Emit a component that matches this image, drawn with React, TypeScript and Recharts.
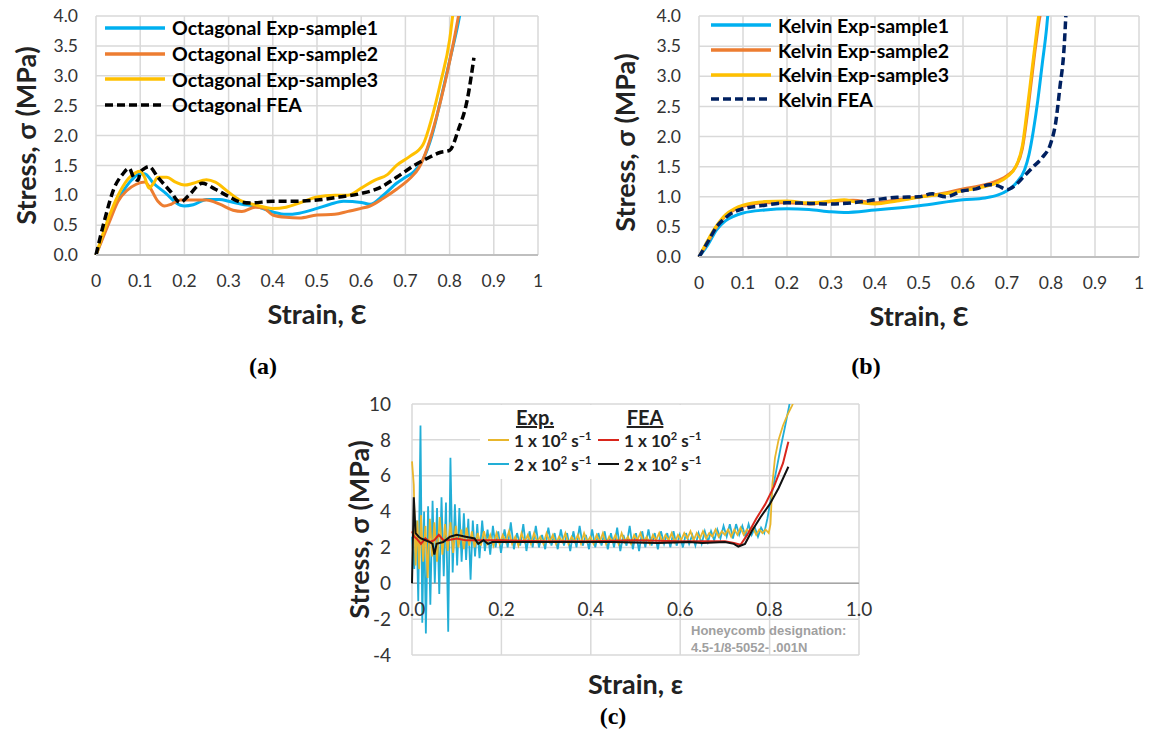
import { CartesianGrid, Legend, Line, LineChart, ReferenceLine, XAxis, YAxis } from "recharts";

type Pt = [number, number];

// (a) octagonal lattice: [strain, stress MPa]
const octSample1: Pt[] = [
  [0, 0], [0.02, 0.4], [0.04, 0.78], [0.06, 1.05], [0.08, 1.25], [0.1, 1.36], [0.11, 1.36],
  [0.13, 1.2], [0.16, 1.02], [0.18, 0.88], [0.2, 0.82], [0.22, 0.84], [0.25, 0.93], [0.28, 0.93],
  [0.3, 0.9], [0.33, 0.85], [0.36, 0.82], [0.4, 0.72], [0.43, 0.68], [0.46, 0.7], [0.5, 0.78],
  [0.53, 0.85], [0.56, 0.9], [0.6, 0.88], [0.62, 0.85], [0.65, 1.0], [0.68, 1.2], [0.7, 1.3],
  [0.72, 1.4], [0.74, 1.6], [0.76, 2.0], [0.78, 2.6], [0.8, 3.25], [0.82, 3.9], [0.83, 4.3],
];
const octSample2: Pt[] = [
  [0, 0], [0.03, 0.55], [0.05, 0.9], [0.07, 1.08], [0.09, 1.18], [0.11, 1.22], [0.12, 1.15],
  [0.14, 0.9], [0.155, 0.82], [0.17, 0.85], [0.19, 0.92], [0.22, 0.92], [0.25, 0.92], [0.28, 0.85],
  [0.31, 0.75], [0.33, 0.73], [0.36, 0.8], [0.38, 0.78], [0.4, 0.67], [0.43, 0.63], [0.46, 0.62],
  [0.5, 0.67], [0.54, 0.68], [0.57, 0.73], [0.6, 0.78], [0.62, 0.82], [0.65, 0.95], [0.68, 1.1],
  [0.71, 1.28], [0.73, 1.45], [0.75, 1.8], [0.77, 2.3], [0.79, 2.9], [0.81, 3.6], [0.825, 4.2],
];
const octSample3: Pt[] = [
  [0, 0], [0.03, 0.65], [0.05, 1.0], [0.07, 1.25], [0.09, 1.38], [0.1, 1.4], [0.11, 1.3],
  [0.12, 1.12], [0.13, 1.2], [0.14, 1.3], [0.16, 1.3], [0.18, 1.22], [0.2, 1.17], [0.22, 1.2],
  [0.25, 1.26], [0.27, 1.22], [0.3, 1.05], [0.33, 0.9], [0.36, 0.84], [0.4, 0.78], [0.43, 0.8],
  [0.46, 0.87], [0.5, 0.97], [0.54, 1.0], [0.57, 1.0], [0.6, 1.12], [0.63, 1.25], [0.66, 1.35],
  [0.68, 1.5], [0.71, 1.65], [0.74, 1.85], [0.76, 2.3], [0.78, 2.9], [0.8, 3.6], [0.81, 4.2],
];
const octFea: Pt[] = [
  [0, 0], [0.02, 0.6], [0.04, 1.1], [0.06, 1.35], [0.075, 1.45], [0.085, 1.3], [0.095, 1.25],
  [0.1, 1.38], [0.11, 1.45], [0.12, 1.48], [0.14, 1.3], [0.17, 1.05], [0.19, 0.88], [0.21, 1.0],
  [0.24, 1.2], [0.27, 1.1], [0.3, 0.98], [0.33, 0.88], [0.35, 0.87], [0.4, 0.9], [0.45, 0.9],
  [0.5, 0.92], [0.55, 0.97], [0.6, 1.03], [0.64, 1.12], [0.68, 1.3], [0.72, 1.5], [0.75, 1.62],
  [0.78, 1.72], [0.8, 1.75], [0.82, 2.1], [0.84, 2.6], [0.855, 3.3],
];

// (b) kelvin lattice
const kelSample1: Pt[] = [
  [0, 0], [0.02, 0.2], [0.04, 0.45], [0.06, 0.6], [0.08, 0.68], [0.1, 0.73], [0.15, 0.78],
  [0.2, 0.8], [0.25, 0.79], [0.3, 0.75], [0.33, 0.74], [0.4, 0.78], [0.5, 0.85], [0.6, 0.95],
  [0.65, 0.98], [0.68, 1.03], [0.7, 1.1], [0.72, 1.22], [0.74, 1.45], [0.75, 1.7], [0.76, 2.1],
  [0.77, 2.6], [0.78, 3.2], [0.79, 3.8], [0.795, 4.2],
];
const kelSample2: Pt[] = [
  [0, 0], [0.02, 0.25], [0.04, 0.5], [0.06, 0.68], [0.08, 0.78], [0.1, 0.84], [0.15, 0.9],
  [0.2, 0.9], [0.25, 0.88], [0.3, 0.92], [0.35, 0.94], [0.4, 0.9], [0.45, 0.95], [0.5, 1.0],
  [0.55, 1.05], [0.6, 1.13], [0.65, 1.2], [0.68, 1.27], [0.7, 1.35], [0.72, 1.5], [0.735, 1.8],
  [0.745, 2.3], [0.755, 2.9], [0.765, 3.5], [0.775, 4.0], [0.787, 4.3],
];
const kelSample3: Pt[] = [
  [0, 0], [0.02, 0.28], [0.04, 0.52], [0.06, 0.7], [0.08, 0.8], [0.1, 0.86], [0.15, 0.92],
  [0.2, 0.93], [0.25, 0.9], [0.3, 0.93], [0.33, 0.95], [0.35, 0.92], [0.4, 0.88], [0.45, 0.93],
  [0.5, 0.99], [0.55, 1.04], [0.6, 1.1], [0.65, 1.17], [0.68, 1.24], [0.7, 1.33], [0.72, 1.5],
  [0.735, 1.85], [0.745, 2.4], [0.755, 3.0], [0.765, 3.6], [0.772, 4.0], [0.78, 4.3],
];
const kelFea: Pt[] = [
  [0, 0], [0.02, 0.25], [0.04, 0.5], [0.06, 0.65], [0.08, 0.75], [0.1, 0.8], [0.15, 0.86],
  [0.2, 0.9], [0.25, 0.89], [0.3, 0.88], [0.35, 0.9], [0.4, 0.95], [0.45, 0.99], [0.5, 1.0],
  [0.53, 1.05], [0.56, 1.0], [0.6, 1.1], [0.63, 1.13], [0.66, 1.2], [0.68, 1.18], [0.7, 1.12],
  [0.72, 1.2], [0.74, 1.35], [0.76, 1.5], [0.78, 1.65], [0.8, 1.9], [0.81, 2.2], [0.82, 2.8],
  [0.83, 3.5], [0.835, 4.2],
];

// (c) honeycomb, dynamic tests
const exp2e2: Pt[] = [
  [0, 2.6], [0.005, 0.8], [0.01, 3.5], [0.014, -1.0], [0.019, 8.8], [0.023, -2.2], [0.027, 4.0],
  [0.031, -2.8], [0.036, 4.3], [0.041, -1.2], [0.046, 4.6], [0.051, 0.0], [0.056, 4.2],
  [0.061, -0.6], [0.066, 4.8], [0.071, 0.4], [0.076, 4.5], [0.081, -2.7], [0.086, 7.0],
  [0.091, 0.6], [0.096, 4.4], [0.101, 1.0], [0.106, 4.2], [0.111, 1.2], [0.116, 3.9],
  [0.121, 1.3], [0.126, 3.6], [0.131, 0.2], [0.136, 3.5], [0.141, 1.5], [0.146, 3.3],
  [0.151, 1.4], [0.157, 3.5], [0.163, 1.8], [0.169, 3.0], [0.175, 1.6], [0.181, 3.2],
  [0.187, 2.0], [0.193, 2.9], [0.199, 1.7],
  [0.207, 3.0], [0.214, 2.0], [0.221, 3.4], [0.228, 1.9], [0.235, 2.8], [0.242, 2.1], [0.249, 3.3],
  [0.256, 1.8], [0.263, 2.9], [0.27, 2.0], [0.277, 3.2], [0.284, 2.0], [0.291, 2.7], [0.298, 1.9],
  [0.305, 3.1], [0.312, 2.1], [0.319, 2.8], [0.326, 1.9], [0.333, 3.0], [0.34, 2.1], [0.347, 2.8],
  [0.354, 1.8], [0.361, 2.9], [0.368, 2.0], [0.375, 3.2], [0.382, 2.1], [0.389, 2.7], [0.396, 1.9],
  [0.403, 3.0], [0.41, 2.0], [0.417, 2.8], [0.424, 2.1], [0.431, 2.9], [0.438, 1.9], [0.445, 2.8],
  [0.452, 2.0], [0.459, 3.1], [0.466, 1.8], [0.473, 2.7], [0.48, 2.1], [0.487, 3.2], [0.494, 1.9],
  [0.501, 2.8], [0.508, 1.8], [0.515, 2.9], [0.522, 2.0], [0.529, 3.0], [0.536, 2.1], [0.543, 2.8],
  [0.55, 1.9], [0.557, 2.9], [0.564, 2.2], [0.571, 2.8], [0.578, 2.0], [0.585, 2.9], [0.592, 2.1],
  [0.599, 2.7], [0.606, 2.0], [0.613, 2.8], [0.62, 2.2], [0.627, 2.7], [0.634, 2.1], [0.641, 2.8],
  [0.648, 2.2], [0.655, 2.9], [0.662, 2.3], [0.669, 2.9], [0.676, 2.4], [0.683, 3.0], [0.69, 2.5],
  [0.697, 3.2], [0.704, 2.6], [0.711, 3.3], [0.718, 2.5], [0.725, 3.3], [0.732, 2.7], [0.739, 3.2],
  [0.746, 2.6], [0.753, 3.3], [0.76, 2.7], [0.767, 3.1], [0.774, 2.6], [0.781, 3.1], [0.788, 2.8],
  [0.795, 3.6], [0.805, 5.0], [0.815, 6.3], [0.825, 7.6], [0.835, 8.8], [0.847, 10.3],
];
const exp1e2: Pt[] = [
  [0, 6.8], [0.004, 5.5], [0.008, 1.0], [0.012, 3.5], [0.016, 0.8], [0.02, 3.8], [0.025, 1.2],
  [0.03, 3.2], [0.035, 0.3], [0.04, 3.6], [0.045, 1.5], [0.05, 3.4], [0.056, 1.2], [0.062, 3.7],
  [0.068, 1.6], [0.074, 3.3], [0.08, 1.8], [0.086, 3.4], [0.092, 1.7], [0.098, 3.2], [0.104, 2.0],
  [0.11, 3.0], [0.116, 1.9], [0.122, 3.1], [0.128, 2.1], [0.134, 2.9], [0.14, 2.0],
  [0.147, 2.8], [0.154, 2.1], [0.161, 2.9], [0.168, 2.2], [0.175, 2.7], [0.182, 2.1], [0.189, 2.8],
  [0.196, 2.2], [0.203, 2.7], [0.21, 2.3], [0.217, 2.9], [0.224, 2.2], [0.231, 2.6], [0.238, 2.1],
  [0.245, 2.8], [0.252, 2.3], [0.259, 2.7], [0.266, 2.2], [0.273, 2.8], [0.28, 2.3], [0.287, 2.6],
  [0.294, 2.2], [0.301, 2.8], [0.308, 2.3], [0.315, 2.7], [0.322, 2.2], [0.329, 2.6], [0.336, 2.3],
  [0.343, 2.8], [0.35, 2.2], [0.357, 2.6], [0.364, 2.3], [0.371, 2.7], [0.378, 2.2], [0.385, 2.8],
  [0.392, 2.3], [0.399, 2.6], [0.406, 2.2], [0.413, 2.7], [0.42, 2.3], [0.427, 2.8], [0.434, 2.2],
  [0.441, 2.6], [0.448, 2.3], [0.455, 2.7], [0.462, 2.2], [0.469, 2.8], [0.476, 2.3], [0.483, 2.6],
  [0.49, 2.2], [0.497, 2.7], [0.504, 2.4], [0.511, 2.8], [0.518, 2.3], [0.525, 2.6], [0.532, 2.2],
  [0.539, 2.7], [0.546, 2.4], [0.553, 2.8], [0.56, 2.3], [0.567, 2.7], [0.574, 2.4], [0.581, 2.8],
  [0.588, 2.3], [0.595, 2.7], [0.602, 2.4], [0.609, 2.8], [0.616, 2.5], [0.623, 2.9], [0.63, 2.4],
  [0.637, 2.8], [0.644, 2.5], [0.651, 2.9], [0.658, 2.5], [0.665, 2.8], [0.672, 2.6], [0.679, 3.0],
  [0.686, 2.6], [0.693, 2.9], [0.7, 2.7], [0.707, 3.0], [0.714, 2.6], [0.721, 3.0], [0.728, 2.7],
  [0.735, 3.1], [0.742, 2.7], [0.749, 3.0], [0.756, 2.8], [0.763, 3.1], [0.77, 2.7], [0.777, 3.0],
  [0.784, 2.8], [0.791, 3.0], [0.798, 2.8], [0.802, 3.3], [0.806, 5.5], [0.812, 7.0], [0.82, 8.0],
  [0.83, 8.8], [0.84, 9.4], [0.85, 9.9], [0.857, 10.3],
];
const fea1e2: Pt[] = [
  [0, 2.9], [0.005, 2.6], [0.01, 2.5], [0.02, 2.2], [0.03, 2.5], [0.04, 2.3], [0.05, 2.4],
  [0.06, 2.7], [0.07, 2.4], [0.08, 2.4], [0.1, 2.5], [0.12, 2.4], [0.15, 2.4], [0.2, 2.4],
  [0.3, 2.35], [0.4, 2.35], [0.5, 2.4], [0.6, 2.35], [0.7, 2.35], [0.72, 2.25], [0.735, 2.15],
  [0.75, 2.7], [0.77, 3.6], [0.79, 4.4], [0.81, 5.4], [0.83, 6.7], [0.842, 7.9],
];
const fea2e2: Pt[] = [
  [0, 0], [0.004, 4.8], [0.008, 2.8], [0.015, 2.6], [0.02, 2.5], [0.03, 2.4], [0.04, 2.3],
  [0.046, 2.2], [0.05, 1.6], [0.055, 2.2], [0.07, 2.3], [0.085, 2.6], [0.1, 2.7], [0.12, 2.6],
  [0.14, 2.5], [0.148, 2.2], [0.16, 2.4], [0.17, 2.2], [0.18, 2.3], [0.25, 2.3], [0.35, 2.3],
  [0.45, 2.3], [0.55, 2.25], [0.62, 2.3], [0.65, 2.25], [0.7, 2.3], [0.72, 2.2], [0.73, 2.05],
  [0.745, 2.2], [0.76, 2.9], [0.78, 3.7], [0.8, 4.4], [0.82, 5.3], [0.842, 6.5],
];

const strainTicksAB = [0, 0.1, 0.2, 0.3, 0.4, 0.5, 0.6, 0.7, 0.8, 0.9, 1];
const stressTicksAB = [0, 0.5, 1, 1.5, 2, 2.5, 3, 3.5, 4];
const strainTicksC = [0, 0.2, 0.4, 0.6, 0.8, 1];
const stressTicksC = [-4, -2, 0, 2, 4, 6, 8, 10];

const toRows = (pts: Pt[]) => pts.map(([strain, stress]) => ({ strain, stress }));

const FONT = "Lato, 'Open Sans', sans-serif";
const GRID = "#D9D9D9";

type Series = { name: string; color: string; dash?: string; data: Pt[] };

const octSeries: Series[] = [
  { name: "Octagonal Exp-sample1", color: "#00B0F0", data: octSample1 },
  { name: "Octagonal Exp-sample2", color: "#ED7D31", data: octSample2 },
  { name: "Octagonal Exp-sample3", color: "#FFC000", data: octSample3 },
  { name: "Octagonal FEA", color: "#000000", dash: "8 4", data: octFea },
];
const kelSeries: Series[] = [
  { name: "Kelvin Exp-sample1", color: "#00B0F0", data: kelSample1 },
  { name: "Kelvin Exp-sample2", color: "#ED7D31", data: kelSample2 },
  { name: "Kelvin Exp-sample3", color: "#FFC000", data: kelSample3 },
  { name: "Kelvin FEA", color: "#002060", dash: "8 4", data: kelFea },
];

function SeriesLegend({ series, rowH }: { series: Series[]; rowH: number }) {
  return (
    <div style={{ fontFamily: FONT, fontWeight: 700, fontSize: 19.5, color: "#000" }}>
      {series.map((s) => (
        <div key={s.name} style={{ display: "flex", alignItems: "center", height: rowH }}>
          <svg width={62} height={8}>
            <line x1={1} y1={4} x2={61} y2={4} stroke={s.color} strokeWidth={3.5} strokeDasharray={s.dash} />
          </svg>
          <span style={{ marginLeft: 6, whiteSpace: "nowrap" }}>{s.name}</span>
        </div>
      ))}
    </div>
  );
}

const tickStyle = { fontSize: 17.5, fill: "#333", fontFamily: FONT };
const titleStyle = { fontSize: 27, fontWeight: 700, fill: "#222", fontFamily: FONT, textAnchor: "middle" as const };

function LatticePanel(props: {
  left: number; width: number; series: Series[]; margin: { top: number; right: number; left: number; bottom: number };
  yWidth: number; xHeight: number; yTitleOffset: number; yTitleDy: number; xTitleOffset: number;
  legendPos: { top: number; left: number }; rowH: number;
}) {
  const { series } = props;
  return (
    <div style={{ position: "absolute", left: props.left, top: 0 }}>
      <LineChart width={props.width} height={340} margin={props.margin}>
        <CartesianGrid stroke={GRID} strokeWidth={1.5} />
        <XAxis
          type="number" dataKey="strain" domain={[0, 1]} ticks={strainTicksAB} height={props.xHeight}
          tickLine={false} tickSize={0} tickMargin={20} tick={tickStyle}
          axisLine={{ stroke: "#BFBFBF", strokeWidth: 2 }}
          tickFormatter={(v: number) => String(v)}
          label={{ value: "Strain, Ɛ", position: "insideBottom", offset: props.xTitleOffset, style: titleStyle }}
        />
        <YAxis
          type="number" domain={[0, 4]} ticks={stressTicksAB} allowDataOverflow width={props.yWidth}
          tickLine={false} tickSize={0} tickMargin={18} axisLine={false} tick={tickStyle}
          tickFormatter={(v: number) => v.toFixed(1)}
          label={{ value: "Stress, σ (MPa)", angle: -90, position: "insideLeft", offset: props.yTitleOffset, dy: props.yTitleDy, style: titleStyle }}
        />
        <Legend
          verticalAlign="middle" align="center"
          wrapperStyle={{ top: props.legendPos.top, left: props.legendPos.left, width: "auto" }}
          content={() => <SeriesLegend series={series} rowH={props.rowH} />}
        />
        {series.map((s) => (
          <Line
            key={s.name} data={toRows(s.data)} dataKey="stress" name={s.name} type="monotone"
            stroke={s.color} strokeWidth={s.dash ? 3.5 : 3} strokeDasharray={s.dash}
            dot={false} activeDot={false} isAnimationActive={false}
          />
        ))}
      </LineChart>
    </div>
  );
}

const rateLabel = (n: string) => (
  <span>
    {n} x 10<sup style={{ fontSize: 11 }}>2</sup> s<sup style={{ fontSize: 11 }}>−1</sup>
  </span>
);

function RateLegend() {
  const head = { position: "absolute" as const, top: 0, fontWeight: 700, fontSize: 20, textDecoration: "underline", transform: "translateX(-50%)" };
  const row = (top: number, left: number, color: string, n: string) => (
    <div style={{ position: "absolute", top, left, display: "flex", alignItems: "center", height: 22 }}>
      <div style={{ width: 21, height: 2.5, background: color }} />
      <span style={{ marginLeft: 5, whiteSpace: "nowrap" }}>{rateLabel(n)}</span>
    </div>
  );
  return (
    <div style={{ position: "relative", width: 240, height: 74, background: "#fff", fontFamily: FONT, fontWeight: 700, fontSize: 17, color: "#222" }}>
      <span style={{ ...head, left: 55 }}>Exp.</span>
      <span style={{ ...head, left: 165 }}>FEA</span>
      {row(24, 8, "#E8B62C", "1")}
      {row(48, 8, "#22AED6", "2")}
      {row(24, 118, "#D9261C", "1")}
      {row(48, 118, "#111111", "2")}
    </div>
  );
}

function HoneycombPanel() {
  const cTick = { ...tickStyle, fontSize: 19 };
  const cTitle = { ...titleStyle, fontSize: 27 };
  return (
    <div style={{ position: "absolute", left: 330, top: 390 }}>
      <LineChart width={560} height={310} margin={{ top: 14, right: 31, left: 20, bottom: 0 }}>
        <CartesianGrid stroke={GRID} strokeWidth={1.5} />
        <XAxis
          type="number" dataKey="strain" domain={[0, 1]} ticks={strainTicksC} height={45}
          tickLine={false} tickSize={0} tickMargin={0} axisLine={false} tick={{ ...cTick, dy: -52 }}
          tickFormatter={(v: number) => v.toFixed(1)}
          label={{ value: "Strain, ε", position: "insideBottom", offset: 6, style: cTitle }}
        />
        <YAxis
          type="number" domain={[-4, 10]} ticks={stressTicksC} allowDataOverflow width={62}
          tickLine={false} tickSize={0} tickMargin={21} axisLine={false} tick={cTick}
          label={{ value: "Stress, σ (MPa)", angle: -90, position: "insideLeft", offset: 9, dy: 0, style: cTitle }}
        />
        <ReferenceLine y={0} stroke="#A6A6A6" strokeWidth={1.5} />
        <Legend
          verticalAlign="middle" align="center"
          wrapperStyle={{ top: 15, left: 150, width: "auto" }}
          content={() => <RateLegend />}
        />
        <Line data={toRows(exp2e2)} dataKey="stress" type="linear" stroke="#22AED6" strokeWidth={1.8} dot={false} activeDot={false} isAnimationActive={false} />
        <Line data={toRows(exp1e2)} dataKey="stress" type="linear" stroke="#E8B62C" strokeWidth={1.8} dot={false} activeDot={false} isAnimationActive={false} />
        <Line data={toRows(fea1e2)} dataKey="stress" type="linear" stroke="#D9261C" strokeWidth={2} dot={false} activeDot={false} isAnimationActive={false} />
        <Line data={toRows(fea2e2)} dataKey="stress" type="linear" stroke="#111111" strokeWidth={2} dot={false} activeDot={false} isAnimationActive={false} />
      </LineChart>
      <div style={{ position: "absolute", left: 361, top: 232, fontFamily: "'Liberation Sans', Arial, sans-serif", fontWeight: 700, fontSize: 13, lineHeight: "17px", color: "#A0A0A0", whiteSpace: "nowrap" }}>
        Honeycomb designation:<br />4.5-1/8-5052- .001N
      </div>
    </div>
  );
}

const capStyle = { position: "absolute" as const, fontFamily: "'Liberation Serif', 'Times New Roman', serif", fontWeight: 700, fontSize: 24, transform: "translate(-50%, -50%)" };

export default function App() {
  return (
    <div style={{ position: "absolute", left: 0, top: 0, width: 1150, height: 733, background: "#fff", overflow: "hidden" }}>
      <LatticePanel
        left={0} width={560} series={octSeries}
        margin={{ top: 16, right: 22, left: 10, bottom: 0 }} yWidth={86} xHeight={85}
        yTitleOffset={16} yTitleDy={0} xTitleOffset={16}
        legendPos={{ top: 15, left: 104 }} rowH={25.7}
      />
      <LatticePanel
        left={580} width={570} series={kelSeries}
        margin={{ top: 16, right: 11, left: 20, bottom: 0 }} yWidth={99} xHeight={83}
        yTitleOffset={25} yTitleDy={6} xTitleOffset={14}
        legendPos={{ top: 13, left: 130 }} rowH={24.7}
      />
      <HoneycombPanel />
      <div style={{ ...capStyle, left: 263, top: 366 }}>(a)</div>
      <div style={{ ...capStyle, left: 866, top: 366 }}>(b)</div>
      <div style={{ ...capStyle, left: 613, top: 716 }}>(c)</div>
    </div>
  );
}
